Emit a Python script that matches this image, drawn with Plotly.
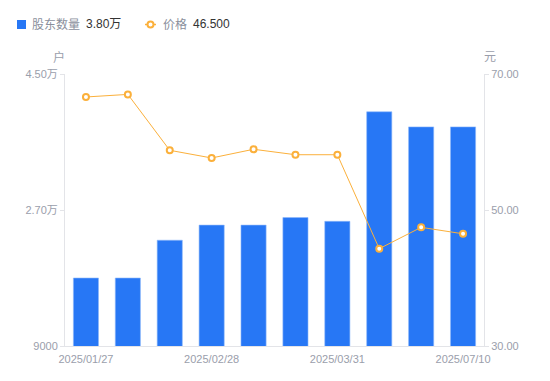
import plotly.graph_objects as go

dates = ["2025/01/27", "2025/02/10", "2025/02/20", "2025/02/28", "2025/03/10",
         "2025/03/20", "2025/03/31", "2025/04/30", "2025/06/20", "2025/07/10"]
holders = [18000, 18000, 23000, 25000, 25000, 26000, 25500, 40000, 38000, 38000]
prices = [66.62, 67.00, 58.78, 57.65, 58.93, 58.13, 58.13, 44.31, 47.45, 46.50]
x_tick_labels = ["2025/01/27", "2025/02/28", "2025/03/31", "2025/07/10"]
left_ticks = [9000, 27000, 45000]
left_tick_text = ["9000", "2.70万", "4.50万"]
right_ticks = [30, 50, 70]
right_tick_text = ["30.00", "50.00", "70.00"]

BLUE = "#2777f5"
ORANGE = "#fbb03b"
GRAY = "#9a9eab"
AXIS = "#e3e4e8"
FONT = "Liberation Sans, Noto Sans CJK SC, sans-serif"

OFF = 8  # page body margin
W, H = 550 - OFF, 381 - OFF
# screen coordinates of plot area
SL, SR, ST, SB = 65, 484, 74, 346
L, T = SL - OFF, ST - OFF
R = W - (SR - OFF)
B = H - (SB - OFF)
pw, ph = W - L - R, H - T - B

def px(x):
    return (x - SL) / pw

def py(y):
    return (SB - y) / ph

fig = go.Figure()
fig.add_trace(go.Bar(
    x=dates, y=holders, name="股东数量", marker=dict(color=BLUE, line=dict(color="#8fb8fa", width=0.6)),
    width=0.6, yaxis="y",
))
fig.add_trace(go.Scatter(
    x=dates, y=prices, name="价格", mode="lines+markers", yaxis="y2",
    line=dict(color=ORANGE, width=1),
    marker=dict(symbol="circle", size=6, color="white", line=dict(color=ORANGE, width=2)),
))

fig.update_layout(
    width=W, height=H, margin=dict(l=L, r=R, t=T, b=B),
    paper_bgcolor="white", plot_bgcolor="white",
    showlegend=False, bargap=0.4,
    font=dict(family=FONT, size=11, color=GRAY),
    xaxis=dict(type="category", tickmode="array", tickvals=x_tick_labels, ticktext=x_tick_labels,
               showgrid=False, showline=True, linecolor=AXIS, linewidth=1, ticks="",
               ticklabelstandoff=3,
               tickfont=dict(size=11, color=GRAY), zeroline=False, range=[-0.5, 9.5]),
    yaxis=dict(range=[9000, 45000], tickmode="array", tickvals=left_ticks, ticktext=left_tick_text,
               showgrid=False, showline=True, linecolor=AXIS, linewidth=1, ticks="outside",
               ticklen=4, tickcolor=AXIS, zeroline=False, tickfont=dict(size=11, color=GRAY)),
    yaxis2=dict(range=[30, 70], overlaying="y", side="right", tickmode="array", tickvals=right_ticks,
                ticktext=right_tick_text, showgrid=False, showline=True, linecolor=AXIS, linewidth=1,
                ticks="outside", ticklen=4, tickcolor=AXIS, zeroline=False,
                tickfont=dict(size=11, color=GRAY)),
)

ann = []
ann.append(dict(text="户", x=px(59), y=py(57), xref="paper", yref="paper", showarrow=False,
                font=dict(size=12, color=GRAY), xanchor="center", yanchor="middle"))
ann.append(dict(text="元", x=px(490), y=py(57), xref="paper", yref="paper", showarrow=False,
                font=dict(size=12, color=GRAY), xanchor="center", yanchor="middle"))
ann.append(dict(text="股东数量", x=px(30), y=py(24), xref="paper", yref="paper", showarrow=False,
                font=dict(size=12, color="#8a8f9c"), xanchor="left", yanchor="middle"))
ann.append(dict(text=f"{holders[-1]/10000:.2f}万", x=px(84), y=py(24), xref="paper", yref="paper",
                showarrow=False, font=dict(size=12, color="#333333"), xanchor="left", yanchor="middle"))
ann.append(dict(text="价格", x=px(161), y=py(24), xref="paper", yref="paper", showarrow=False,
                font=dict(size=12, color="#8a8f9c"), xanchor="left", yanchor="middle"))
ann.append(dict(text=f"{prices[-1]:.3f}", x=px(191), y=py(24), xref="paper", yref="paper",
                showarrow=False, font=dict(size=12, color="#333333"), xanchor="left", yanchor="middle"))
fig.update_layout(annotations=ann)

shapes = [
    dict(type="rect", xref="paper", yref="paper", x0=px(17), x1=px(26), y0=py(29), y1=py(20),
         fillcolor=BLUE, line=dict(width=0)),
    dict(type="line", xref="paper", yref="paper", x0=px(145), x1=px(156), y0=py(24.5), y1=py(24.5),
         line=dict(color=ORANGE, width=1.5)),
    dict(type="circle", xref="paper", yref="paper", x0=px(147.5), x1=px(153.5), y0=py(27.5), y1=py(21.5),
         fillcolor="white", line=dict(color=ORANGE, width=2)),
]
fig.update_layout(shapes=shapes)

fig.write_html("out.html")
